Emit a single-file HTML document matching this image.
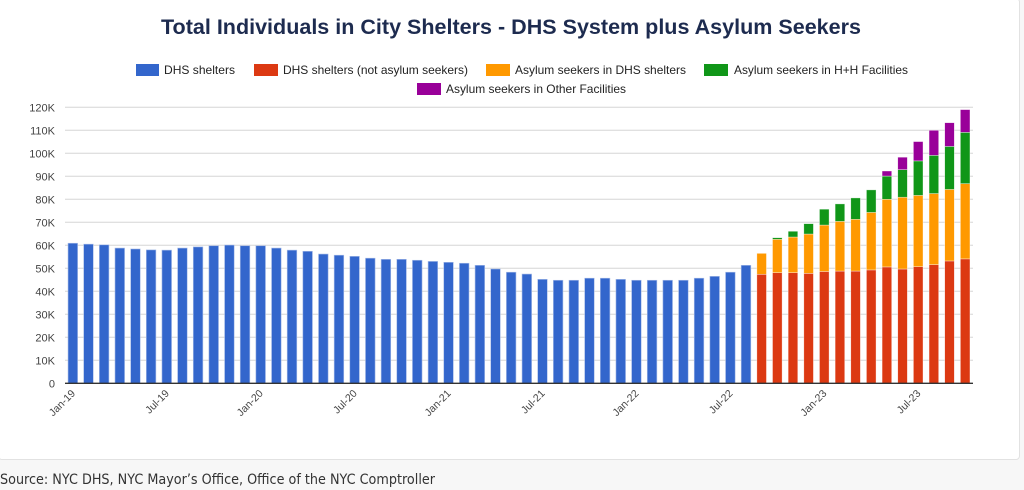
<!DOCTYPE html>
<html><head><meta charset="utf-8"><style>
body{margin:0;width:1024px;height:490px;background:#f7f7f7;overflow:hidden;font-family:"Liberation Sans",Arial,sans-serif}
#card{position:absolute;left:-2px;top:-2px;width:1020px;height:460px;background:#fff;border:1px solid #e2e2e2;border-radius:4px}
svg{position:absolute;left:0;top:0;font-family:"Liberation Sans",Arial,sans-serif}
</style></head><body>
<div id="card"></div>
<svg id="s" width="1024" height="490" xmlns="http://www.w3.org/2000/svg">
<text x="161" y="34" textLength="700" lengthAdjust="spacingAndGlyphs" font-weight="bold" font-size="21" fill="#1d2b4f">Total Individuals in City Shelters - DHS System plus Asylum Seekers</text>
<g font-size="12" fill="#222">
<rect x="136" y="64" width="23" height="12" fill="#3366cc"/><text x="164" y="74" textLength="71" lengthAdjust="spacingAndGlyphs">DHS shelters</text>
<rect x="254" y="64" width="24" height="12" fill="#dc3912"/><text x="283" y="74" textLength="185" lengthAdjust="spacingAndGlyphs">DHS shelters (not asylum seekers)</text>
<rect x="486" y="64" width="24" height="12" fill="#ff9900"/><text x="515" y="74" textLength="171" lengthAdjust="spacingAndGlyphs">Asylum seekers in DHS shelters</text>
<rect x="704" y="64" width="24" height="12" fill="#109618"/><text x="734" y="74" textLength="174" lengthAdjust="spacingAndGlyphs">Asylum seekers in H+H Facilities</text>
<rect x="417" y="83" width="24" height="12" fill="#990099"/><text x="446" y="93" textLength="180" lengthAdjust="spacingAndGlyphs">Asylum seekers in Other Facilities</text>
</g>
<g id="g"></g>
<text x="0" y="484" font-size="14" fill="#333" textLength="435" lengthAdjust="spacingAndGlyphs" font-family="DejaVu Sans, sans-serif">Source: NYC DHS, NYC Mayor’s Office, Office of the NYC Comptroller</text>
</svg>
<script>
var blue=[60.9,60.5,60.2,58.8,58.4,58.0,57.9,58.8,59.3,59.8,60.1,59.8,59.8,58.8,57.9,57.4,56.2,55.7,55.2,54.4,53.9,53.9,53.5,53.0,52.6,52.2,51.3,49.7,48.3,47.5,45.2,44.8,44.8,45.7,45.7,45.2,44.8,44.8,44.8,44.8,45.7,46.5,48.3,51.3];
var st=[[47.4,56.5,56.5,56.5],[48.1,62.6,63.3,63.3],[48.1,63.6,66.1,66.1],[47.8,64.9,69.4,69.4],[48.6,68.8,75.7,75.7],[48.8,70.4,78.0,78.0],[48.8,71.3,80.6,80.6],[49.3,74.3,84.1,84.1],[50.6,80.0,90.1,92.3],[49.7,80.9,92.9,98.3],[50.7,81.7,96.7,105.1],[51.6,82.5,99.1,110.0],[53.2,84.3,103.0,113.3],[54.1,86.8,109.1,119.0]];
var cols=["#dc3912","#ff9900","#109618","#990099"];
var B=383.3,K=2.3,x0=65,x1=973,step=(x1-x0)/58,bw=9.6,h='';
function Y(v){return B-v*K;}
for(var i=0;i<=12;i++){var y=Y(i*10);
 if(i>0)h+='<line x1="'+x0+'" x2="'+x1+'" y1="'+y+'" y2="'+y+'" stroke="#d6d6d6" stroke-width="1"/>';
 h+='<text x="55" y="'+(y+4)+'" text-anchor="end" font-size="11" fill="#444">'+(i?i*10+'K':'0')+'</text>';}
for(var i=0;i<58;i++){var cx=x0+step*(i+0.5),x=cx-bw/2;
 if(i<44){h+='<rect x="'+x+'" y="'+Y(blue[i])+'" width="'+bw+'" height="'+(blue[i]*K)+'" fill="#3366cc" stroke="#a9bde8" stroke-width="0.6"/>';}
 else{var s=st[i-44],p=0;for(var j=0;j<4;j++){var v=s[j];if(v-p>0.05){h+='<rect x="'+x+'" y="'+Y(v)+'" width="'+bw+'" height="'+((v-p)*K)+'" fill="'+cols[j]+'" stroke="#fff" stroke-opacity="0.6" stroke-width="0.6"/>';}p=v;}}
}
h+='<line x1="'+x0+'" x2="'+x1+'" y1="'+B+'" y2="'+B+'" stroke="#333" stroke-width="1.3"/>';
var lb=["Jan-19","Jul-19","Jan-20","Jul-20","Jan-21","Jul-21","Jan-22","Jul-22","Jan-23","Jul-23"];
for(var k=0;k<10;k++){var cx=x0+step*(k*6+0.5)+3;
 h+='<text transform="translate('+cx+',394) rotate(-45)" text-anchor="end" font-size="10.5" fill="#444">'+lb[k]+'</text>';}
document.getElementById('g').innerHTML=h;
</script>
</body></html>
